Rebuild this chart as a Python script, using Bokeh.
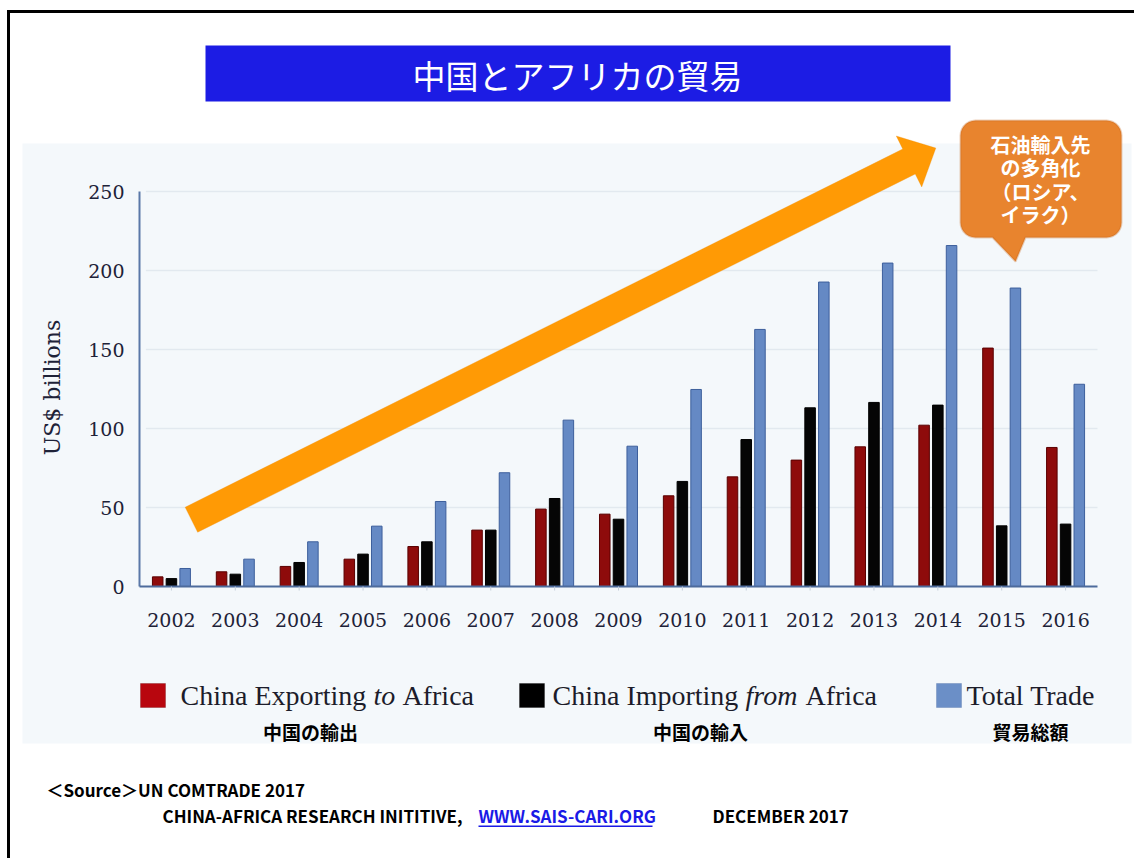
from bokeh.plotting import figure
from bokeh.models import (ColumnDataSource, Range1d, Label, BoxAnnotation, PolyAnnotation)
from bokeh.core.properties import value
from bokeh.transform import dodge
from bokeh.embed import file_html
from bokeh.resources import INLINE
import numpy as np

# ---------------- data ----------------
years = [2002, 2003, 2004, 2005, 2006, 2007, 2008, 2009,
         2010, 2011, 2012, 2013, 2014, 2015, 2016]
exports = [6.1, 9.3, 12.7, 17.3, 25.3, 35.7, 49.0, 45.8, 57.4, 69.4,
           80.0, 88.4, 102.1, 150.9, 88.0]
imports = [5.0, 7.8, 15.2, 20.5, 28.3, 35.7, 55.7, 42.6, 66.5, 93.0,
           113.1, 116.5, 114.8, 38.4, 39.5]
total_trade = [11.4, 17.3, 28.3, 38.2, 53.8, 72.0, 105.3, 88.8, 124.7, 162.7,
               192.7, 204.7, 215.8, 188.9, 128.0]
y_ticks = [0, 50, 100, 150, 200, 250]
year_labels = ["2002", "2003", "2004", "2005", "2006", "2007", "2008", "2009",
               "2010", "2011", "2012", "2013", "2014", "2015", "2016"]
y_tick_labels = ["0", "50", "100", "150", "200", "250"]

title_text = "中国とアフリカの貿易"
callout_lines = ["石油輸入先", "の多角化", "（ロシア、", "イラク）"]
y_label = "US$ billions"

# ---------------- page geometry (pixels) ----------------
W, H = 1134, 858
FL, FT, FW, FH = 139, 191, 958, 395          # chart area in page pixels
YMAX = y_ticks[-1]
PPX = FW / len(years)                         # pixels per year
PPY = FH / YMAX                               # pixels per US$ bn
X_LO = years[0] - 0.5
X_HI = years[-1] + 0.5
X0 = X_LO - FL / PPX
X1 = X0 + W / PPX
Y1 = YMAX + FT / PPY
Y0 = Y1 - H / PPY


def dx(px):
    return X0 + px / PPX


def dy(py):
    return Y1 - py / PPY


src = ColumnDataSource(dict(year=years, exp=exports, imp=imports, tot=total_trade,
                            ylab=year_labels))
tsrc = ColumnDataSource(dict(t=y_ticks, lab=y_tick_labels))

p = figure(x_range=Range1d(X0, X1), y_range=Range1d(Y0, Y1), width=W, height=H,
           output_backend="svg", toolbar_location=None, min_border=0,
           x_axis_location=None, y_axis_location=None)
p.outline_line_color = None
p.background_fill_color = "white"
p.border_fill_color = "white"
p.grid.visible = False

PANEL = "#f4f8fb"
INK = "#1e2238"
# panel background
p.add_layout(BoxAnnotation(left=dx(22), right=dx(1131), top=dy(143), bottom=dy(743),
                           fill_color=PANEL, fill_alpha=1, line_color=None, level="image"))

# gridlines
gsrc = ColumnDataSource(dict(y=y_ticks[1:]))
p.segment(x0=X_LO + 0.1, x1=X_HI, y0="y", y1="y", source=gsrc,
          line_color="#e2e9ef", line_width=1.5)

# bars
BW = 0.165
OFF = 0.215
p.vbar(x=dodge("year", -OFF), top="exp", width=BW, source=src,
       fill_color="#8e0b0b", line_color="#5a0000", line_width=1)
p.vbar(x=dodge("year", 0), top="imp", width=BW, source=src,
       fill_color="#050505", line_color="#000000", line_width=1)
p.vbar(x=dodge("year", OFF), top="tot", width=BW, source=src,
       fill_color="#6589c4", line_color="#3d5f9c", line_width=1)

# axes (drawn from the tick lists)
p.segment(x0=[X_LO], y0=[y_ticks[0]], x1=[X_LO], y1=[y_ticks[-1]],
          line_color="#5a78a8", line_width=2)
p.segment(x0=[X_LO], y0=[y_ticks[0]], x1=[X_HI], y1=[y_ticks[0]],
          line_color="#4d6b9c", line_width=2)
p.segment(x0="year", x1="year", y0=0, y1=-4 / PPY, source=src,
          line_color="#c5cfdb", line_width=1)
p.text(x=X_LO, y="t", text="lab", source=tsrc, x_offset=-15,
       text_align="right", text_baseline="middle",
       text_font=value("DejaVu Serif"), text_font_size=value("19px"), text_color=INK)
p.text(x="year", y=0, text="ylab", source=src, y_offset=33,
       text_align="center", text_baseline="middle",
       text_font=value("DejaVu Serif"), text_font_size=value("19px"), text_color=INK)
p.add_layout(Label(x=dx(52), y=dy(387), text=y_label, angle=np.pi / 2,
                   text_align="center", text_baseline="middle",
                   text_font="DejaVu Serif", text_font_size="22px", text_color=INK))

# page frame lines (left & top)
p.add_layout(BoxAnnotation(left=dx(6.5), right=dx(9.5), top=dy(9.5), bottom=dy(860),
                           fill_color="black", fill_alpha=1, line_color=None, level="overlay"))
p.add_layout(BoxAnnotation(left=dx(6.5), right=dx(1136), top=dy(9.5), bottom=dy(12.5),
                           fill_color="black", fill_alpha=1, line_color=None, level="overlay"))

# title bar
p.add_layout(BoxAnnotation(left=dx(205), right=dx(950), top=dy(45), bottom=dy(101),
                           fill_color="#1c1ce4", fill_alpha=1, line_color=None, level="overlay"))
p.add_layout(Label(x=dx(577), y=dy(74), text=title_text, text_align="center",
                   text_baseline="middle", text_font="Noto Sans CJK JP",
                   text_font_size="33px", text_color="white", level="overlay"))

# big orange trend arrow (pixel geometry converted into data space)
tail = np.array([190.9, 519.2])
head_base = np.array([908.5, 161.0])
u = (head_base - tail) / np.linalg.norm(head_base - tail)
n = np.array([-u[1], u[0]])
hw, hh, hl = 14.0, 28.5, 30.0
pts = [tail - n * hw, head_base - n * hw, head_base - n * hh, head_base + u * hl,
       head_base + n * hh, head_base + n * hw, tail + n * hw]
p.add_layout(PolyAnnotation(xs=[dx(q[0]) for q in pts], ys=[dy(q[1]) for q in pts],
                            fill_color="#ff9a05", fill_alpha=1, line_color="#f0900a",
                            line_width=1, level="overlay"))


# callout bubble
def rounded_bubble(x0, y0, x1, y1, r, ptr):
    out = []
    for cx, cy, a0 in [(x1 - r, y0 + r, -90), (x1 - r, y1 - r, 0),
                       (x0 + r, y1 - r, 90), (x0 + r, y0 + r, 180)]:
        if a0 == 90:
            out += ptr
        for a in np.linspace(a0, a0 + 90, 8):
            t = np.radians(a)
            out.append((cx + r * np.cos(t), cy + r * np.sin(t)))
    return out


bub = rounded_bubble(960, 120, 1121, 237, 15,
                     [(1025, 237), (1015, 261), (992, 237)])
p.add_layout(PolyAnnotation(xs=[dx(q[0]) for q in bub], ys=[dy(q[1]) for q in bub],
                            fill_color="#e8842e", fill_alpha=1, line_color="#c4641c",
                            line_width=2, level="overlay"))
for i, t in enumerate(callout_lines):
    p.add_layout(Label(x=dx(1040), y=dy(144 + 23.3 * i), text=t, text_align="center",
                       text_baseline="middle", text_font="Noto Sans CJK JP",
                       text_font_style="bold", text_font_size="20px",
                       text_color="white", level="overlay"))

# legend
LEG_FONT = "Liberation Serif"
LEG_SIZE = "28px"
LEG_Y = 695
for (x0, col, edge) in [(140, "#b8060e", "#6a0000"), (519, "#000000", "#000000"),
                        (936, "#6b8fc7", "#45679f")]:
    p.add_layout(BoxAnnotation(left=dx(x0), right=dx(x0 + 25), top=dy(683), bottom=dy(707),
                               fill_color=col, fill_alpha=1, line_color=edge, line_width=1,
                               level="overlay"))

legend_segments = [
    (180, "China Exporting ", "normal"), (373, "to", "italic"), (402, "Africa", "normal"),
    (552, "China Importing ", "normal"), (745, "from", "italic"), (805, "Africa", "normal"),
    (966, "Total Trade", "normal"),
]
for x0, t, st in legend_segments:
    p.add_layout(Label(x=dx(x0), y=dy(LEG_Y), text=t, text_align="left",
                       text_baseline="middle", text_font=LEG_FONT, text_font_style=st,
                       text_font_size=LEG_SIZE, text_color="#1c1c2a", level="overlay"))

for xc, t in [(310, "中国の輸出"), (700, "中国の輸入"), (1030, "貿易総額")]:
    p.add_layout(Label(x=dx(xc), y=dy(731), text=t, text_align="center",
                       text_baseline="middle", text_font="Noto Sans CJK JP",
                       text_font_style="bold", text_font_size="19px",
                       text_color="black", level="overlay"))

# source notes
SRC_FONT = "Noto Sans CJK JP"
for x0, y0, t, col in [(46, 789, "＜Source＞UN COMTRADE 2017", "black"),
                       (162, 815, "CHINA-AFRICA RESEARCH INITITIVE,", "black"),
                       (478, 815, "WWW.SAIS-CARI.ORG", "#1a1ae6"),
                       (712, 815, "DECEMBER 2017", "black")]:
    p.add_layout(Label(x=dx(x0), y=dy(y0), text=t, text_align="left",
                       text_baseline="middle", text_font=SRC_FONT, text_font_style="bold",
                       text_font_size="17px", text_color=col, level="overlay"))
p.add_layout(BoxAnnotation(left=dx(478), right=dx(652), top=dy(825), bottom=dy(826.5),
                           fill_color="#1a1ae6", fill_alpha=1, line_color=None, level="overlay"))

open("out.html", "w").write(file_html(p, INLINE))
